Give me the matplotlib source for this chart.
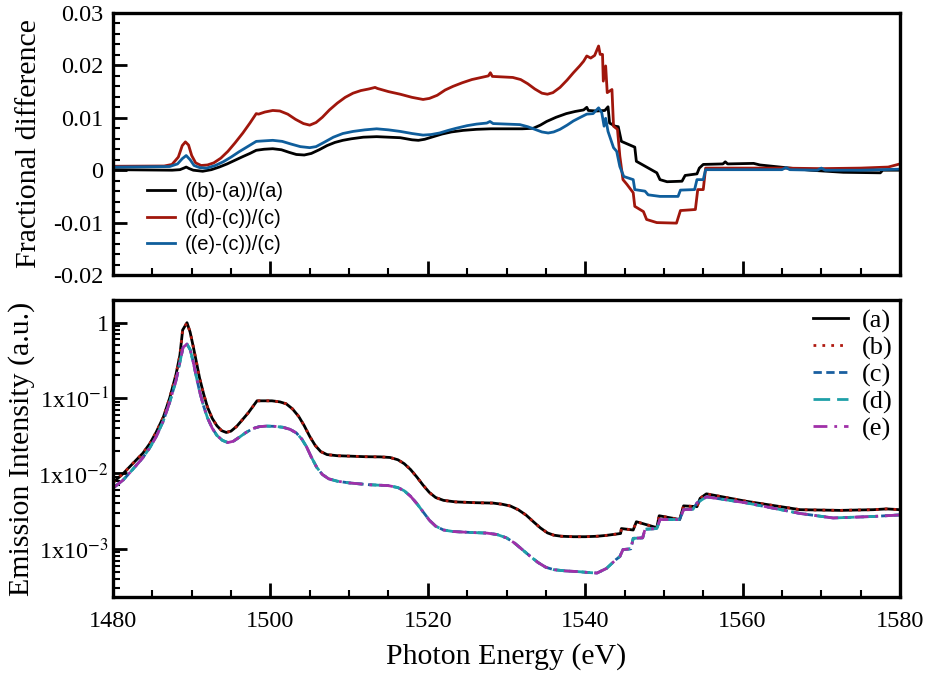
import numpy as np
import matplotlib
matplotlib.use("Agg")
import matplotlib.pyplot as plt
from matplotlib.ticker import MultipleLocator, FixedLocator, FuncFormatter, LogLocator, NullFormatter

plt.rcParams['font.family'] = ['Liberation Serif', 'DejaVu Serif']
plt.rcParams['mathtext.fontset'] = 'stix'
plt.rcParams['axes.unicode_minus'] = False

# ---------------- data: top panel (fractional differences) ----------------
e_ba = [1480.0, 1487.5, 1488.5, 1489.0, 1489.3, 1489.7, 1490.2, 1491.4, 1492.5, 1493.5,
        1494.5, 1495.5, 1496.5, 1497.4, 1498.2, 1499.2, 1500.3, 1501.4, 1502.4, 1503.3,
        1504.3, 1505.2, 1506.2, 1507.2, 1508.2, 1509.2, 1510.3, 1511.8, 1513.5, 1515.0,
        1516.5, 1518.0, 1518.8, 1519.6, 1520.7, 1521.8, 1523.0, 1524.5, 1526.2, 1528.0,
        1530.0, 1532.0, 1533.4, 1534.3, 1535.1, 1536.3, 1537.6, 1538.7, 1539.8, 1540.2,
        1540.4, 1541.5, 1542.5, 1542.9, 1543.1, 1543.8, 1544.2, 1544.6, 1546.3, 1546.5,
        1549.1, 1549.5, 1550.4, 1552.3, 1552.7, 1554.2, 1554.5, 1555.0, 1557.5, 1557.8,
        1558.1, 1561.4, 1562.2, 1568.6, 1572.8, 1577.5, 1577.8, 1580.0]
frac_ba = [0.0001, 0.0000, 0.0001, 0.0004, 0.0006, 0.0003, 0.0000, -0.0002, 0.0001, 0.0006,
           0.0012, 0.0019, 0.0026, 0.0032, 0.0038, 0.0040, 0.0041, 0.0039, 0.0034, 0.0030,
           0.0029, 0.0032, 0.0039, 0.0047, 0.0053, 0.0057, 0.0060, 0.0063, 0.0064, 0.0063,
           0.0062, 0.0058, 0.0057, 0.0059, 0.0064, 0.0069, 0.0073, 0.0076, 0.0078, 0.0079,
           0.0079, 0.0079, 0.0080, 0.0086, 0.0093, 0.0101, 0.0108, 0.0112, 0.0115, 0.0120,
           0.0114, 0.0113, 0.0114, 0.0121, 0.0090, 0.0084, 0.0083, 0.0055, 0.0044, 0.0017,
           -0.0005, -0.0018, -0.0022, -0.0021, -0.0010, -0.0007, 0.0004, 0.0011, 0.0012, 0.0016,
           0.0012, 0.0013, 0.0010, 0.0000, -0.0004, -0.0005, 0.0000, 0.0000]

e_dc = [1480.0, 1486.5, 1487.5, 1488.3, 1488.8, 1489.2, 1489.6, 1490.0, 1490.5, 1491.2,
        1492.0, 1492.8, 1493.7, 1494.6, 1495.5, 1496.5, 1497.4, 1498.2, 1498.5, 1499.3,
        1500.3, 1501.2, 1502.2, 1503.2, 1504.2, 1505.0, 1505.8, 1506.6, 1507.5, 1508.5,
        1509.5, 1510.5, 1511.5, 1512.5, 1513.3, 1513.6, 1515.0, 1516.5, 1518.0, 1519.4,
        1520.2, 1521.2, 1522.2, 1523.2, 1524.4, 1525.6, 1526.8, 1527.7, 1527.95, 1528.2,
        1529.5, 1530.8, 1531.8, 1532.7, 1533.6, 1534.5, 1535.2, 1535.9, 1536.8, 1537.7,
        1538.5, 1539.3, 1539.8, 1540.2, 1540.7, 1541.2, 1541.7, 1541.9, 1542.2, 1542.3,
        1542.6, 1542.8, 1543.4, 1543.6, 1544.1, 1544.4, 1544.8, 1545.3, 1546.1, 1546.3,
        1547.4, 1547.8, 1549.1, 1551.6, 1552.1, 1554.0, 1554.3, 1555.0, 1555.3, 1565.0,
        1570.0, 1575.0, 1578.5, 1580.0]
frac_dc = [0.00075, 0.0008, 0.0011, 0.0025, 0.0047, 0.0054, 0.0048, 0.0028, 0.0014, 0.0009,
           0.0010, 0.0014, 0.0023, 0.0036, 0.0052, 0.0071, 0.0090, 0.0108, 0.0107, 0.0111,
           0.0114, 0.0113, 0.0107, 0.0097, 0.0089, 0.0086, 0.0091, 0.0101, 0.0115, 0.0128,
           0.0139, 0.0147, 0.0152, 0.0155, 0.0158, 0.0156, 0.0150, 0.0145, 0.0139, 0.0135,
           0.0137, 0.0143, 0.0153, 0.0160, 0.0167, 0.0173, 0.0177, 0.0180, 0.0186, 0.0179,
           0.0178, 0.0177, 0.0173, 0.0165, 0.0155, 0.0147, 0.0145, 0.0148, 0.0158, 0.0172,
           0.0186, 0.0199, 0.0208, 0.0218, 0.0214, 0.0219, 0.0237, 0.0221, 0.0221, 0.0170,
           0.0199, 0.0148, 0.0154, 0.0084, 0.0078, 0.0027, -0.0018, -0.0027, -0.0043, -0.0069,
           -0.0079, -0.0094, -0.0100, -0.0101, -0.0077, -0.0075, -0.0037, -0.0037, 0.0004, 0.0004,
           0.0003, 0.0004, 0.0006, 0.0012]

e_ec = [1480.0, 1487.2, 1488.2, 1488.8, 1489.3, 1489.8, 1490.3, 1491.0, 1491.9, 1493.0,
        1494.0, 1495.0, 1496.0, 1497.1, 1498.2, 1499.2, 1500.3, 1501.5, 1502.6, 1503.8,
        1505.0, 1505.8, 1506.8, 1508.0, 1509.2, 1510.5, 1512.0, 1513.5, 1515.0, 1516.5,
        1518.0, 1519.4, 1520.4, 1521.5, 1522.6, 1523.6, 1525.0, 1526.2, 1527.5, 1527.9,
        1528.3, 1530.0, 1531.7, 1532.7, 1533.6, 1534.5, 1535.3, 1536.0, 1536.8, 1537.7,
        1538.5, 1539.4, 1540.2, 1541.0, 1541.7, 1542.1, 1542.4, 1542.6, 1542.9, 1543.6,
        1544.0, 1544.4, 1544.9, 1546.1, 1546.3, 1547.6, 1548.0, 1549.5, 1551.8, 1552.1,
        1553.9, 1554.2, 1555.0, 1555.3, 1565.0, 1565.5, 1566.0, 1569.5, 1570.0, 1570.5,
        1575.0, 1580.0]
frac_ec = [0.0006, 0.0007, 0.0012, 0.0022, 0.0028, 0.0020, 0.0009, 0.0005, 0.0004, 0.0009,
           0.0016, 0.0025, 0.0035, 0.0045, 0.0055, 0.0056, 0.0057, 0.0055, 0.0050, 0.0045,
           0.0043, 0.0045, 0.0053, 0.0063, 0.0070, 0.0074, 0.0077, 0.0079, 0.0077, 0.0074,
           0.0070, 0.0067, 0.0068, 0.0071, 0.0076, 0.0080, 0.0085, 0.0088, 0.0090, 0.0093,
           0.0089, 0.0088, 0.0087, 0.0083, 0.0078, 0.0073, 0.0071, 0.0073, 0.0078, 0.0086,
           0.0094, 0.0101, 0.0107, 0.0108, 0.0119, 0.0110, 0.0084, 0.0099, 0.0074, 0.0043,
           0.0036, 0.0007, -0.0012, -0.0018, -0.0037, -0.0040, -0.0047, -0.0050, -0.0050, -0.0038,
           -0.0037, -0.0018, -0.0018, 0.0001, 0.0001, 0.0005, 0.0001, 0.0000, 0.0004, 0.0000,
           0.0000, 0.0002]

# ---------------- data: bottom panel (emission intensity) ----------------
e_a = [1480.0, 1481.3, 1482.5, 1483.8, 1484.7, 1485.5, 1486.4, 1487.2, 1488.0, 1488.5,
       1488.85, 1489.4, 1489.8, 1490.2, 1490.6, 1491.0, 1491.5, 1492.0, 1492.6, 1493.2,
       1493.8, 1494.4, 1495.0, 1495.7, 1496.4, 1497.2, 1497.8, 1498.3, 1499.1, 1500.2,
       1501.2, 1502.0, 1502.8, 1503.6, 1504.3, 1505.0, 1505.7, 1506.4, 1507.2, 1508.5,
       1510.0, 1512.0, 1514.0, 1515.2, 1516.2, 1517.0, 1517.8, 1518.6, 1519.4, 1520.2,
       1521.0, 1522.0, 1523.5, 1526.0, 1528.3, 1529.5, 1530.5, 1531.5, 1532.5, 1533.4,
       1534.3, 1535.2, 1536.0, 1537.0, 1538.5, 1540.0, 1541.5, 1542.7, 1543.5, 1544.5,
       1544.6, 1546.1, 1546.5, 1549.1, 1549.4, 1552.0, 1552.5, 1554.2, 1554.6, 1555.4,
       1560.5, 1567.3, 1572.4, 1576.6, 1578.3, 1580.0]
int_a = [0.0076, 0.0100, 0.0135, 0.0186, 0.0251, 0.0355, 0.056, 0.100, 0.205, 0.37,
         0.80, 1.0, 0.75, 0.48, 0.30, 0.185, 0.115, 0.076, 0.054, 0.043,
         0.037, 0.035, 0.0365, 0.042, 0.051, 0.064, 0.078, 0.092, 0.092, 0.092,
         0.0891, 0.084, 0.072, 0.057, 0.043, 0.031, 0.0235, 0.0195, 0.0178, 0.0172,
         0.0170, 0.0167, 0.0166, 0.0163, 0.0152, 0.0135, 0.0113, 0.0090, 0.0070, 0.0056,
         0.0048, 0.0044, 0.0042, 0.0041, 0.00405, 0.0039, 0.0037, 0.0033, 0.0028, 0.0023,
         0.00190, 0.00163, 0.00152, 0.00147, 0.00145, 0.00145, 0.00147, 0.00151, 0.00155, 0.00160,
         0.00186, 0.00178, 0.00229, 0.00191, 0.00275, 0.00245, 0.00372, 0.00363, 0.00468, 0.00537,
         0.00427, 0.00331, 0.00324, 0.00331, 0.00339, 0.00331]
int_b = list(int_a)

e_c = [1480.0, 1481.3, 1482.5, 1483.8, 1484.7, 1485.5, 1486.4, 1487.2, 1488.0, 1488.5,
       1488.9, 1489.4, 1489.8, 1490.2, 1490.6, 1491.0, 1491.5, 1492.0, 1492.6, 1493.2,
       1493.9, 1494.6, 1495.3, 1496.1, 1496.9, 1497.8, 1498.6, 1499.5, 1500.5, 1501.6,
       1502.5, 1503.3, 1504.0, 1504.6, 1505.2, 1505.9, 1506.6, 1507.4, 1508.5, 1510.0,
       1512.5, 1515.0, 1516.2, 1517.0, 1517.8, 1518.6, 1519.4, 1520.2, 1521.0, 1522.0,
       1523.2, 1525.5, 1527.5, 1528.8, 1530.0, 1531.0, 1532.0, 1533.0, 1534.0, 1535.0,
       1536.0, 1537.5, 1539.0, 1540.5, 1541.5, 1542.7, 1543.9, 1544.4, 1544.8, 1545.8,
       1546.1, 1547.3, 1547.6, 1549.1, 1549.5, 1552.0, 1552.5, 1553.7, 1554.2, 1555.4,
       1560.5, 1567.3, 1571.5, 1576.6, 1580.0]
int_c = [0.0064, 0.0082, 0.0113, 0.0162, 0.0222, 0.031, 0.050, 0.088, 0.170, 0.30,
         0.47, 0.52, 0.44, 0.30, 0.19, 0.123, 0.079, 0.055, 0.040, 0.032,
         0.0275, 0.0257, 0.0268, 0.0305, 0.035, 0.0395, 0.0418, 0.0425, 0.0422, 0.0410,
         0.0385, 0.0345, 0.0285, 0.0225, 0.0165, 0.0120, 0.0097, 0.0085, 0.0079, 0.0075,
         0.0071, 0.0069, 0.0065, 0.0059, 0.0050, 0.0040, 0.0031, 0.0024, 0.0020, 0.00178,
         0.00170, 0.00165, 0.00162, 0.00155, 0.00140, 0.00120, 0.00098, 0.00080, 0.00066, 0.00057,
         0.00053, 0.00051, 0.000500, 0.000485, 0.000478, 0.000550, 0.00072, 0.00079, 0.00098, 0.00100,
         0.00138, 0.00140, 0.00182, 0.00186, 0.00245, 0.00245, 0.00331, 0.00335, 0.00407, 0.00490,
         0.00407, 0.00295, 0.00257, 0.00269, 0.00282]
int_d = list(int_c)
int_e = list(int_c)

# ---------------- figure ----------------
fig = plt.figure(figsize=(9.29, 6.75), dpi=100)
ax1 = fig.add_axes([113/929, 1-275/675, 787/929, 262/675])
ax2 = fig.add_axes([113/929, 1-597/675, 787/929, 297/675])

RED = '#a0160c'
BLUE = '#0f5e9c'
lw = 2.0

ax1.plot(e_ba, frac_ba, color='black', lw=lw, label='((b)-(a))/(a)')
ax1.plot(e_dc, frac_dc, color=RED, lw=lw, label='((d)-(c))/(c)')
ax1.plot(e_ec, frac_ec, color=BLUE, lw=lw, label='((e)-(c))/(c)')

ax2.plot(e_a, int_a, color='black', lw=2.0, label='(a)')
ax2.plot(e_a, int_b, color='#b01a10', lw=2.0, ls=(0, (1, 2.2)), label='(b)')
ax2.plot(e_c, int_c, color='#1a5fa0', lw=2.0, ls=(0, (3, 1.6)), label='(c)')
ax2.plot(e_c, int_d, color='#1fa0a8', lw=2.0, ls=(0, (6, 2.5)), label='(d)')
ax2.plot(e_c, int_e, color='#a030a8', lw=2.0, ls=(0, (5, 2.5, 1, 2.5)), label='(e)')

for ax in (ax1, ax2):
    ax.set_xlim(1480, 1580)
    ax.xaxis.set_major_locator(MultipleLocator(20))
    ax.xaxis.set_minor_locator(MultipleLocator(5))
    for s in ax.spines.values():
        s.set_linewidth(2.4)
    ax.tick_params(which='major', direction='in', length=10, width=2.0,
                   labelsize=17.5, top=False, right=False, pad=7)
    ax.tick_params(which='minor', direction='in', length=5, width=1.5,
                   top=False, right=False)
ax2.tick_params(axis='x', which='major', pad=10)
ax2.tick_params(axis='y', which='major', pad=3)

ax1.set_ylim(-0.02, 0.03)
ax1.yaxis.set_major_locator(MultipleLocator(0.01))
ax1.yaxis.set_minor_locator(MultipleLocator(0.002))
ax1.yaxis.set_major_formatter(FuncFormatter(lambda v, p: '0' if abs(v) < 1e-9 else f'{v:.2f}'))
ax1.tick_params(axis='x', labelbottom=False)
ax1.set_ylabel('Fractional difference', fontsize=21.5, labelpad=8)

ax2.set_yscale('log')
ax2.set_ylim(2.3e-4, 2.0)
ax2.yaxis.set_major_locator(FixedLocator([1e-3, 1e-2, 1e-1, 1.0]))

def logfmt(v, p):
    ex = int(round(np.log10(v)))
    return '1' if ex == 0 else '1x10$^{%d}$' % ex

ax2.yaxis.set_major_formatter(FuncFormatter(logfmt))
ax2.yaxis.set_minor_locator(LogLocator(base=10, subs=np.arange(2, 10), numticks=20))
ax2.yaxis.set_minor_formatter(NullFormatter())
ax2.set_ylabel('Emission Intensity (a.u.)', fontsize=21.5, labelpad=2)
ax2.set_xlabel('Photon Energy (eV)', fontsize=21.5, labelpad=8)

leg1 = ax1.legend(loc='upper left', bbox_to_anchor=(0.043, 0.355), frameon=False,
                  prop={'family': 'Liberation Sans', 'size': 14.5}, handlelength=1.4,
                  handletextpad=0.5, labelspacing=0.38, borderpad=0, borderaxespad=0)
leg2 = ax2.legend(loc='upper right', bbox_to_anchor=(0.99, 0.97), frameon=False,
                  prop={'family': 'Liberation Serif', 'size': 19}, handlelength=1.35,
                  handletextpad=0.5, labelspacing=0.12, borderpad=0, borderaxespad=0)

fig.savefig('out.png', dpi=100)
